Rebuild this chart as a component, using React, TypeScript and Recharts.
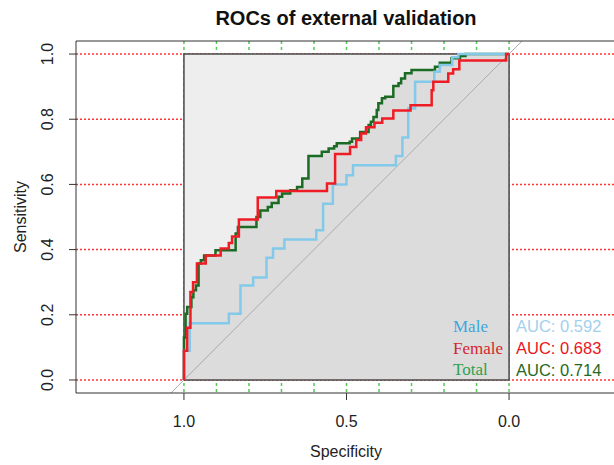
import React from "react";
import { ComposedChart, Line, Area, XAxis, YAxis, CartesianGrid } from "recharts";

// axes
const xTicks = [1, 0.5, 0];
const yTicks = [0, 0.2, 0.4, 0.6, 0.8, 1];
const gridSpecs = [0, 0.1, 0.2, 0.3, 0.4, 0.5, 0.6, 0.7, 0.8, 0.9, 1];
const gridSens = [0, 0.2, 0.4, 0.6, 0.8, 1];
const xDomain: [number, number] = [-0.332, 1.332];
const yDomain: [number, number] = [-0.04, 1.04];

// ROC coordinates (specificity, sensitivity)
const maleSpec = [1, 1, 0.982, 0.982, 0.862, 0.862, 0.826, 0.826, 0.787, 0.787, 0.746, 0.746, 0.726, 0.726, 0.691, 0.691, 0.593, 0.593, 0.572, 0.572, 0.542, 0.542, 0.5, 0.5, 0.48, 0.48, 0.348, 0.348, 0.328, 0.328, 0.31, 0.31, 0.289, 0.289, 0.23, 0.23, 0.213, 0.213, 0.175, 0.175, 0.156, 0.156, 0];
const maleSens = [0, 0.09, 0.09, 0.174, 0.174, 0.203, 0.203, 0.29, 0.29, 0.314, 0.314, 0.375, 0.375, 0.403, 0.403, 0.431, 0.431, 0.459, 0.459, 0.541, 0.541, 0.6, 0.6, 0.628, 0.628, 0.659, 0.659, 0.687, 0.687, 0.744, 0.744, 0.833, 0.833, 0.915, 0.915, 0.946, 0.946, 0.966, 0.966, 0.99, 0.99, 1, 1];

const femaleSpec = [1, 1, 0.99, 0.99, 0.98, 0.98, 0.972, 0.972, 0.96, 0.96, 0.933, 0.933, 0.887, 0.887, 0.862, 0.862, 0.852, 0.852, 0.831, 0.831, 0.773, 0.773, 0.716, 0.716, 0.56, 0.56, 0.535, 0.535, 0.489, 0.489, 0.47, 0.47, 0.455, 0.455, 0.44, 0.44, 0.414, 0.414, 0.39, 0.39, 0.356, 0.356, 0.303, 0.303, 0.238, 0.238, 0.233, 0.233, 0.187, 0.187, 0.172, 0.172, 0.153, 0.153, 0.009, 0.009, 0];
const femaleSens = [0, 0.09, 0.09, 0.16, 0.16, 0.27, 0.27, 0.3, 0.3, 0.357, 0.357, 0.382, 0.382, 0.403, 0.403, 0.42, 0.42, 0.44, 0.44, 0.492, 0.492, 0.56, 0.56, 0.58, 0.58, 0.603, 0.603, 0.693, 0.693, 0.715, 0.715, 0.736, 0.736, 0.756, 0.756, 0.775, 0.775, 0.789, 0.789, 0.802, 0.802, 0.827, 0.827, 0.843, 0.843, 0.889, 0.889, 0.915, 0.915, 0.94, 0.94, 0.953, 0.953, 0.98, 0.98, 1, 1];

const totalSpec = [1, 1, 0.995, 0.995, 0.99, 0.99, 0.977, 0.977, 0.971, 0.971, 0.963, 0.963, 0.955, 0.955, 0.948, 0.948, 0.938, 0.938, 0.903, 0.903, 0.841, 0.841, 0.834, 0.834, 0.777, 0.777, 0.765, 0.765, 0.742, 0.742, 0.73, 0.73, 0.709, 0.709, 0.698, 0.698, 0.673, 0.673, 0.652, 0.652, 0.636, 0.636, 0.617, 0.617, 0.576, 0.576, 0.555, 0.555, 0.538, 0.538, 0.53, 0.53, 0.49, 0.49, 0.483, 0.483, 0.458, 0.458, 0.432, 0.432, 0.425, 0.425, 0.417, 0.417, 0.407, 0.407, 0.402, 0.402, 0.391, 0.391, 0.381, 0.381, 0.356, 0.356, 0.34, 0.34, 0.332, 0.332, 0.32, 0.32, 0.3, 0.3, 0.228, 0.228, 0.213, 0.213, 0.177, 0.177, 0.151, 0.151, 0.134, 0.134, 0];
const totalSens = [0, 0.13, 0.13, 0.203, 0.203, 0.224, 0.224, 0.254, 0.254, 0.275, 0.275, 0.29, 0.29, 0.357, 0.357, 0.367, 0.367, 0.382, 0.382, 0.398, 0.398, 0.449, 0.449, 0.469, 0.469, 0.5, 0.5, 0.52, 0.52, 0.531, 0.531, 0.543, 0.543, 0.562, 0.562, 0.572, 0.572, 0.582, 0.582, 0.592, 0.592, 0.618, 0.618, 0.687, 0.687, 0.7, 0.7, 0.71, 0.71, 0.717, 0.717, 0.726, 0.726, 0.731, 0.731, 0.741, 0.741, 0.761, 0.761, 0.782, 0.782, 0.792, 0.792, 0.807, 0.807, 0.828, 0.828, 0.849, 0.849, 0.864, 0.864, 0.869, 0.869, 0.902, 0.902, 0.91, 0.91, 0.925, 0.925, 0.941, 0.941, 0.951, 0.951, 0.961, 0.961, 0.973, 0.973, 0.987, 0.987, 0.994, 0.994, 1, 1];

// reference shapes
const squareSpec = [1, 1, 0, 0, 1];
const squareSens = [0, 1, 1, 0, 0];
const squareFillSpec = [1, 0];
const squareFillSens = [1, 1];
const diagSpec = [1.04, -0.04];
const diagSens = [-0.04, 1.04];
const frameSpec = [1.332, 1.332, -0.332, -0.332, 1.332];
const frameSens = [-0.04, 1.04, 1.04, -0.04, -0.04];

// legend
const legendNames = ["Male", "Female", "Total"];
const aucValues = ["0.592", "0.683", "0.714"];
const nameColors = ["#3ea7dc", "#d3262e", "#2ea150"];
const aucColors = ["#a3d0ec", "#e8161e", "#1f6a24"];
const curveColors = { male: "#83c9ea", female: "#ee1c25", total: "#1c6b24" };

const zip = (s: number[], v: number[]) => s.map((x, i) => ({ spec: x, sens: v[i] }));

const maleData = zip(maleSpec, maleSens);
const femaleData = zip(femaleSpec, femaleSens);
const totalData = zip(totalSpec, totalSens);
const squareData = zip(squareSpec, squareSens);
const squareFillData = zip(squareFillSpec, squareFillSens);
const diagData = zip(diagSpec, diagSens);
const frameData = zip(frameSpec, frameSens);

const SANS = "'Liberation Sans', Arial, sans-serif";
const SERIF = "'Liberation Serif', 'Times New Roman', serif";

const XTick = (p: any) => (
  <text x={p.x} y={p.y + 25} textAnchor="middle" fontFamily={SANS} fontSize={16} fill="#222">
    {Number(p.payload.value).toFixed(1)}
  </text>
);

const YTick = (p: any) => (
  <g transform={`translate(${p.x - 20},${p.y}) rotate(-90)`}>
    <text x={0} y={0} dy="0.35em" textAnchor="middle" fontFamily={SANS} fontSize={16} fill="#222">
      {Number(p.payload.value).toFixed(1)}
    </text>
  </g>
);

const toFn = (sc: any) => (typeof sc === "function" ? sc : sc?.map?.bind(sc));

const vGen = (props: any) => {
  const f = toFn(props?.xAxis?.scale);
  return f ? gridSpecs.map((v) => f(v)) : [];
};
const hGen = (props: any) => {
  const f = toFn(props?.yAxis?.scale);
  return f ? gridSens.map((v) => f(v)) : [];
};

export default function App() {
  return (
    <div style={{ position: "fixed", left: 0, top: 0, width: 614, height: 465, overflow: "hidden", background: "#fff" }}>
      <div style={{ position: "relative", width: 640, height: 465 }}>
        <ComposedChart width={640} height={465} margin={{ top: 41, right: 23, bottom: 0, left: 0 }}>
          <XAxis
            dataKey="spec"
            type="number"
            domain={xDomain}
            reversed
            ticks={xTicks}
            interval={0}
            axisLine={false}
            tickLine={{ stroke: "#333" }}
            tickSize={7}
            height={72}
            tick={XTick}
          />
          <YAxis
            type="number"
            domain={yDomain}
            ticks={yTicks}
            interval={0}
            axisLine={false}
            tickLine={{ stroke: "#333" }}
            tickSize={7}
            width={76}
            tick={YTick}
          />
          <CartesianGrid vertical={false} horizontalCoordinatesGenerator={hGen} stroke="#ff3535" strokeDasharray="2 2" strokeWidth={1.5} />
          <CartesianGrid horizontal={false} verticalCoordinatesGenerator={vGen} stroke="#55c855" strokeDasharray="3 3" strokeWidth={1.5} />
          <Area data={squareFillData} dataKey="sens" type="linear" baseValue={0} stroke="none" fill="#eeeeee" fillOpacity={1} isAnimationActive={false} activeDot={false} />
          <Area data={totalData} dataKey="sens" type="linear" baseValue={0} stroke="none" fill="#dcdcdc" fillOpacity={1} isAnimationActive={false} activeDot={false} />
          <Area data={femaleData} dataKey="sens" type="linear" baseValue={0} stroke="none" fill="#dcdcdc" fillOpacity={1} isAnimationActive={false} activeDot={false} />
          <Area data={maleData} dataKey="sens" type="linear" baseValue={0} stroke="none" fill="#dcdcdc" fillOpacity={1} isAnimationActive={false} activeDot={false} />
          <Line data={diagData} dataKey="sens" type="linear" stroke="#aaaaaa" strokeWidth={1} dot={false} activeDot={false} isAnimationActive={false} />
          <Line data={squareData} dataKey="sens" type="linear" stroke="#4a4a4a" strokeWidth={1.5} dot={false} activeDot={false} isAnimationActive={false} />
          <Line data={totalData} dataKey="sens" type="linear" stroke={curveColors.total} strokeWidth={2.5} dot={false} activeDot={false} isAnimationActive={false} />
          <Line data={maleData} dataKey="sens" type="linear" stroke={curveColors.male} strokeWidth={2.5} dot={false} activeDot={false} isAnimationActive={false} />
          <Line data={femaleData} dataKey="sens" type="linear" stroke={curveColors.female} strokeWidth={2.5} dot={false} activeDot={false} isAnimationActive={false} />
          <Line data={frameData} dataKey="sens" type="linear" stroke="#333" strokeWidth={1} dot={false} activeDot={false} isAnimationActive={false} />
        </ComposedChart>

        <div style={{ position: "absolute", left: 146, width: 400, top: 6, lineHeight: "24px", textAlign: "center", fontFamily: SANS, fontWeight: "bold", fontSize: 20, color: "#111" }}>
          ROCs of external validation
        </div>
        <div style={{ position: "absolute", left: 246, width: 200, top: 442, lineHeight: "20px", textAlign: "center", fontFamily: SANS, fontSize: 16, color: "#222" }}>
          Specificity
        </div>
        <div style={{ position: "absolute", left: 21, top: 217, transform: "translate(-50%,-50%) rotate(-90deg)", whiteSpace: "nowrap", lineHeight: "20px", fontFamily: SANS, fontSize: 16, color: "#222" }}>
          Sensitivity
        </div>
        {legendNames.map((n, i) => (
          <div key={n} style={{ position: "absolute", left: 453, top: 317 + i * 21.5, lineHeight: "20px", fontFamily: SERIF, fontSize: 17, color: nameColors[i], whiteSpace: "nowrap" }}>
            {n}
          </div>
        ))}
        {aucValues.map((v, i) => (
          <div key={v} style={{ position: "absolute", left: 516, top: 316 + i * 22, lineHeight: "20px", fontFamily: SANS, fontSize: 16.5, color: aucColors[i], whiteSpace: "nowrap" }}>
            AUC: {v}
          </div>
        ))}
      </div>
    </div>
  );
}
